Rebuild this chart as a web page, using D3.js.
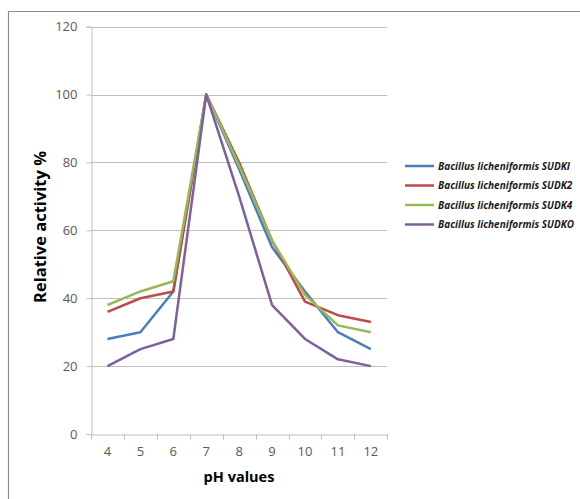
<!DOCTYPE html>
<html>
<head>
<meta charset="utf-8">
<script src="https://cdn.jsdelivr.net/npm/d3@7"></script>
<style>
  body { margin: 0; background: #fff; }
  svg { display: block; font-family: "Open Sans", "Noto Sans", sans-serif; }
</style>
</head>
<body>
<div id="chart"></div>
<script>
// pH categories and relative activity (%) per strain
const phValues = ['4', '5', '6', '7', '8', '9', '10', '11', '12'];
const sudk1 = [28, 30, 42, 100, 78, 55, 42, 30, 25];
const sudk2 = [36, 40, 42, 100, 80, 57, 39, 35, 33];
const sudk4 = [38, 42, 45, 100, 79, 57, 41, 32, 30];
const sudko = [20, 25, 28, 100, 70, 38, 28, 22, 20];
const seriesNames = ['Bacillus licheniformis SUDKI', 'Bacillus licheniformis SUDK2',
                     'Bacillus licheniformis SUDK4', 'Bacillus licheniformis SUDKO'];
const yTicks = [0, 20, 40, 60, 80, 100, 120];

const colors = ['#4a7ebb', '#be4b48', '#98b954', '#7d60a0'];
const series = [sudk1, sudk2, sudk4, sudko].map((v, i) => ({ name: seriesNames[i], values: v, color: colors[i] }));

const W = 580, H = 499;
const plot = { left: 91, right: 387.3, top: 26.7, bottom: 434 };

const svg = d3.select('#chart').append('svg')
  .attr('width', W).attr('height', H);

// outer chart frame (only left and top edges visible)
svg.append('path')
  .attr('d', `M8.5,${H} L8.5,11.5 L${W},11.5`)
  .attr('fill', 'none').attr('stroke', '#8c8c8c').attr('stroke-width', 1.2);

const x = d3.scaleBand().domain(phValues).range([plot.left, plot.right]);
const y = d3.scaleLinear().domain([0, 120]).range([plot.bottom, plot.top]);

// gridlines
svg.append('g').selectAll('line')
  .data(yTicks.filter(d => d > 0)).enter().append('line')
  .attr('x1', plot.left).attr('x2', plot.right)
  .attr('y1', d => Math.round(y(d)) + 0.5).attr('y2', d => Math.round(y(d)) + 0.5)
  .attr('stroke', '#bfbfbf').attr('stroke-width', 1);

// y axis
const yAxis = svg.append('g')
  .attr('transform', `translate(${plot.left + 0.5},0)`)
  .call(d3.axisLeft(y).tickValues(yTicks).tickSize(5).tickPadding(9));
yAxis.select('.domain').attr('stroke', '#bfbfbf');
yAxis.selectAll('.tick line').attr('stroke', '#bfbfbf');
yAxis.selectAll('text').attr('fill', '#595959').style('font-size', '13px')
  .style('font-family', '"Open Sans", sans-serif');

// x axis with tick marks on band boundaries
const xAxis = svg.append('g')
  .attr('transform', `translate(0,${Math.round(plot.bottom) + 0.5})`)
  .call(d3.axisBottom(x).tickSize(0).tickPadding(12));
xAxis.select('.domain').attr('stroke', '#bfbfbf');
xAxis.selectAll('text').attr('fill', '#595959').style('font-size', '13px')
  .style('font-family', '"Open Sans", sans-serif');
xAxis.selectAll('.bound').data(phValues.concat(['end'])).enter().append('line')
  .attr('x1', (d, i) => Math.round(plot.left + i * x.bandwidth()) + 0.5)
  .attr('x2', (d, i) => Math.round(plot.left + i * x.bandwidth()) + 0.5)
  .attr('y1', 0).attr('y2', 5)
  .attr('stroke', '#bfbfbf');

// lines
const line = d3.line()
  .x((d, i) => x(phValues[i]) + x.bandwidth() / 2)
  .y(d => y(d));

svg.append('g').selectAll('path')
  .data(series).enter().append('path')
  .attr('d', d => line(d.values))
  .attr('fill', 'none')
  .attr('stroke', d => d.color)
  .attr('stroke-width', 2.5)
  .attr('stroke-linejoin', 'round');

// axis titles
svg.append('text')
  .attr('transform', 'translate(46,227) rotate(-90)')
  .attr('text-anchor', 'middle')
  .style('font-size', '16.5px').style('font-weight', 'bold')
  .attr('fill', '#000')
  .text('Relative activity %');

svg.append('text')
  .attr('x', 239).attr('y', 482)
  .attr('text-anchor', 'middle')
  .style('font-size', '14.5px').style('font-weight', 'bold')
  .attr('fill', '#000')
  .text('pH values');

// legend
const legend = svg.append('g').attr('transform', 'translate(405,166)');
const item = legend.selectAll('g').data(series).enter().append('g')
  .attr('transform', (d, i) => `translate(0,${i * 19.5})`);
item.append('line')
  .attr('x1', 0).attr('x2', 29).attr('y1', 0).attr('y2', 0)
  .attr('stroke', d => d.color).attr('stroke-width', 2.5);
item.append('text')
  .attr('x', 33).attr('y', 3.5)
  .style('font-size', '10px').style('font-weight', 'bold').style('font-style', 'italic')
  .attr('fill', '#1a1a1a')
  .text(d => d.name);
</script>
</body>
</html>
